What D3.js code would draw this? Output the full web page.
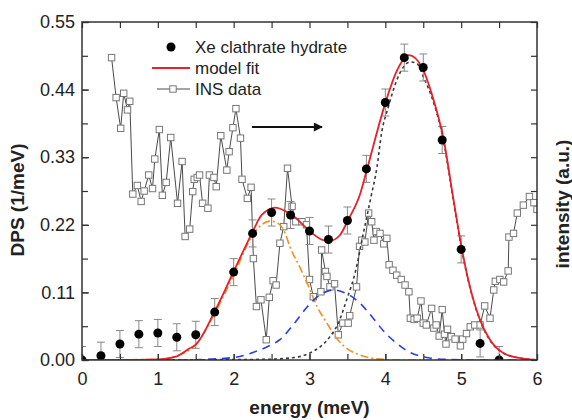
<!DOCTYPE html>
<html>
<head>
<meta charset="utf-8">
<script src="https://cdn.jsdelivr.net/npm/d3@7"></script>
<style>
  body { margin: 0; background: #fff; }
  text { font-family: "Liberation Sans", Arial, sans-serif; fill: #222; }
</style>
</head>
<body>
<div id="chart"></div>
<script>
// measured DPS points (energy, DPS) with error bars
var dpsE = [0, 0.25, 0.5, 0.75, 1.0, 1.25, 1.5, 1.75, 2.0, 2.25, 2.5, 2.75, 3.0, 3.25, 3.5, 3.75, 4.0, 4.25, 4.5, 4.75, 5.0, 5.25, 5.5];
var dpsV = [0.0, 0.007, 0.026, 0.042, 0.044, 0.037, 0.041, 0.078, 0.143, 0.206, 0.240, 0.236, 0.210, 0.196, 0.227, 0.311, 0.419, 0.492, 0.476, 0.358, 0.180, 0.027, 0.0];
var dpsErr = 0.022;

// model fit (red)
var fitE = [0, 0.5, 1.0, 1.25, 1.42, 1.5, 1.75, 2.0, 2.24, 2.37, 2.55, 2.7, 2.77, 3.01, 3.18, 3.27, 3.4, 3.51, 3.67, 3.76, 4.0, 4.15, 4.31, 4.48, 4.62, 4.77, 4.9, 5.01, 5.12, 5.25, 5.38, 5.56, 5.78, 6.0];
var fitV = [0, 0, 0.001, 0.006, 0.019, 0.025, 0.079, 0.144, 0.206, 0.236, 0.248, 0.241, 0.236, 0.209, 0.195, 0.194, 0.203, 0.228, 0.271, 0.311, 0.418, 0.470, 0.496, 0.477, 0.430, 0.358, 0.260, 0.180, 0.117, 0.065, 0.033, 0.011, 0.003, 0];

// component 1 (orange dash-dot)
var c1E = [0, 1.0, 1.25, 1.5, 1.75, 2.0, 2.26, 2.48, 2.59, 2.68, 2.74, 2.88, 2.99, 3.10, 3.23, 3.36, 3.49, 3.67, 3.89, 4.2, 6.0];
var c1V = [0, 0.001, 0.007, 0.025, 0.076, 0.138, 0.205, 0.226, 0.222, 0.206, 0.185, 0.149, 0.119, 0.087, 0.060, 0.035, 0.019, 0.008, 0.002, 0, 0];

// component 2 (blue dashed)
var c2E = [0, 1.3, 2.0, 2.25, 2.45, 2.61, 2.79, 2.96, 3.14, 3.32, 3.49, 3.67, 3.84, 3.97, 4.15, 4.33, 4.55, 4.8, 5.2, 6.0];
var c2V = [0, 0, 0.004, 0.012, 0.022, 0.033, 0.058, 0.085, 0.106, 0.114, 0.108, 0.092, 0.068, 0.048, 0.027, 0.012, 0.004, 0.001, 0, 0];

// component 3 (black dotted)
var c3E = [0, 2.4, 2.8, 3.0, 3.27, 3.38, 3.49, 3.60, 3.71, 3.81, 3.89, 3.95, 4.04, 4.15, 4.24, 4.33, 4.42, 4.50, 4.62, 4.77, 4.9, 5.01, 5.12, 5.25, 5.38, 5.56, 5.78, 6.0];
var c3V = [0, 0.001, 0.004, 0.011, 0.038, 0.060, 0.098, 0.141, 0.206, 0.265, 0.314, 0.369, 0.412, 0.455, 0.477, 0.485, 0.482, 0.461, 0.425, 0.355, 0.258, 0.178, 0.116, 0.064, 0.032, 0.011, 0.003, 0];

// INS data (right axis, drawn in same units)
var insE = [0.39, 0.45, 0.51, 0.55, 0.60, 0.63, 0.67, 0.73, 0.78, 0.82, 0.88, 0.93, 0.96, 1.02, 1.06, 1.11, 1.17, 1.26, 1.32, 1.36, 1.42, 1.46, 1.48, 1.52, 1.55, 1.59, 1.66, 1.68, 1.74, 1.77, 1.83, 1.91, 1.94, 1.99, 2.03, 2.09, 2.11, 2.18, 2.23, 2.26, 2.30, 2.36, 2.43, 2.47, 2.52, 2.56, 2.61, 2.66, 2.71, 2.77, 2.82, 2.90, 2.96, 3.00, 3.05, 3.15, 3.16, 3.21, 3.23, 3.27, 3.33, 3.38, 3.44, 3.51, 3.53, 3.62, 3.66, 3.69, 3.73, 3.78, 3.82, 3.85, 3.88, 3.93, 3.98, 4.02, 4.05, 4.10, 4.15, 4.21, 4.26, 4.31, 4.33, 4.38, 4.42, 4.47, 4.50, 4.54, 4.61, 4.64, 4.67, 4.71, 4.75, 4.78, 4.80, 4.82, 4.87, 4.92, 4.99, 5.02, 5.07, 5.12, 5.18, 5.25, 5.31, 5.38, 5.43, 5.45, 5.51, 5.56, 5.62, 5.63, 5.69, 5.74, 5.82, 5.90, 5.96, 6.0];
var insV = [0.492, 0.427, 0.377, 0.434, 0.407, 0.421, 0.270, 0.284, 0.258, 0.275, 0.301, 0.279, 0.327, 0.375, 0.268, 0.289, 0.362, 0.255, 0.323, 0.201, 0.213, 0.274, 0.294, 0.297, 0.301, 0.255, 0.247, 0.301, 0.297, 0.282, 0.365, 0.309, 0.339, 0.378, 0.409, 0.361, 0.294, 0.263, 0.281, 0.165, 0.087, 0.098, 0.033, 0.102, 0.129, 0.122, 0.190, 0.217, 0.312, 0.250, 0.225, 0.225, 0.220, 0.131, 0.103, 0.111, 0.179, 0.144, 0.136, 0.119, 0.124, 0.041, 0.060, 0.060, 0.072, 0.119, 0.185, 0.195, 0.192, 0.239, 0.225, 0.195, 0.209, 0.206, 0.189, 0.198, 0.155, 0.146, 0.138, 0.131, 0.122, 0.111, 0.068, 0.066, 0.068, 0.096, 0.060, 0.057, 0.084, 0.052, 0.057, 0.039, 0.082, 0.042, 0.026, 0.050, 0.038, 0.034, 0.023, 0.034, 0.043, 0.054, 0.057, 0.057, 0.088, 0.068, 0.114, 0.128, 0.131, 0.127, 0.145, 0.200, 0.206, 0.239, 0.252, 0.266, 0.256, 0.245];

var yTicks = [0, 0.11, 0.22, 0.33, 0.44, 0.55];
var xTicks = [0, 1, 2, 3, 4, 5, 6];

var width = 572, height = 420;
var mLeft = 82, mRight = 537, mTop = 22, mBottom = 360;

var svg = d3.select("#chart").append("svg")
    .attr("width", width)
    .attr("height", height);

var x = d3.scaleLinear().domain([0, 6]).range([mLeft, mRight]);
var y = d3.scaleLinear().domain([0, 0.55]).range([mBottom, mTop]);

var defs = svg.append("defs");
defs.append("clipPath").attr("id", "clip")
  .append("rect")
    .attr("x", mLeft).attr("y", mTop)
    .attr("width", mRight - mLeft).attr("height", mBottom - mTop);

function pts(es, vs) { return es.map(function(e, i){ return [e, vs[i]]; }); }

var line = d3.line()
    .x(function(d){ return x(d[0]); })
    .y(function(d){ return y(d[1]); });
var smooth = d3.line()
    .curve(d3.curveMonotoneX)
    .x(function(d){ return x(d[0]); })
    .y(function(d){ return y(d[1]); });

var plot = svg.append("g").attr("clip-path", "url(#clip)");

// INS data
plot.append("path")
    .attr("d", line(pts(insE, insV)))
    .attr("fill", "none")
    .attr("stroke", "#4a4a4a")
    .attr("stroke-width", 1);
plot.selectAll("rect.ins")
  .data(pts(insE, insV))
  .enter().append("rect")
    .attr("class", "ins")
    .attr("x", function(d){ return x(d[0]) - 3.2; })
    .attr("y", function(d){ return y(d[1]) - 3.2; })
    .attr("width", 6.4).attr("height", 6.4)
    .attr("fill", "#fff")
    .attr("stroke", "#777")
    .attr("stroke-width", 1);

// components
plot.append("path")
    .attr("d", smooth(pts(c1E, c1V)))
    .attr("fill", "none").attr("stroke", "#f0901e")
    .attr("stroke-width", 1.6)
    .attr("stroke-dasharray", "8,3,2,3");
plot.append("path")
    .attr("d", smooth(pts(c2E, c2V)))
    .attr("fill", "none").attr("stroke", "#2b3de6")
    .attr("stroke-width", 1.6)
    .attr("stroke-dasharray", "8,6");
plot.append("path")
    .attr("d", smooth(pts(c3E, c3V)))
    .attr("fill", "none").attr("stroke", "#3a3a3a")
    .attr("stroke-width", 1.6)
    .attr("stroke-dasharray", "3,3");

// error bars
var dps = pts(dpsE, dpsV);
var eb = plot.selectAll("g.err").data(dps).enter().append("g")
    .attr("stroke", "#888").attr("stroke-width", 1);
eb.append("line")
    .attr("x1", function(d){ return x(d[0]); })
    .attr("x2", function(d){ return x(d[0]); })
    .attr("y1", function(d){ return y(d[1] - dpsErr); })
    .attr("y2", function(d){ return y(d[1] + dpsErr); });
[-1, 1].forEach(function(s){
  eb.append("line")
    .attr("x1", function(d){ return x(d[0]) - 4; })
    .attr("x2", function(d){ return x(d[0]) + 4; })
    .attr("y1", function(d){ return y(d[1] + s * dpsErr); })
    .attr("y2", function(d){ return y(d[1] + s * dpsErr); });
});

// model fit
plot.append("path")
    .attr("d", smooth(pts(fitE, fitV)))
    .attr("fill", "none").attr("stroke", "#e8202a")
    .attr("stroke-width", 1.8);

// dots
plot.selectAll("circle.dps").data(dps).enter().append("circle")
    .attr("class", "dps")
    .attr("cx", function(d){ return x(d[0]); })
    .attr("cy", function(d){ return y(d[1]); })
    .attr("r", 4.5)
    .attr("fill", "#000");

// axes
var axisColor = "#333";
function styleAxis(g) {
  g.select(".domain").remove();
  g.selectAll(".tick line").attr("stroke", axisColor).attr("stroke-width", 1.2);
  g.selectAll("text").style("font-size", "18px").attr("fill", "#222");
}
var minorX = d3.range(0, 6.01, 0.5);
var minorY = d3.range(0, 11).map(function(i){ return i * 0.055; });

svg.append("g").attr("transform", "translate(0," + mBottom + ")")
    .call(d3.axisBottom(x).tickValues(minorX).tickSize(-6).tickFormat(""))
    .call(styleAxis);
svg.append("g").attr("transform", "translate(0," + mBottom + ")")
    .call(d3.axisBottom(x).tickValues(xTicks).tickSize(-6).tickPadding(12).tickFormat(d3.format("d")))
    .call(styleAxis);
svg.append("g").attr("transform", "translate(0," + mTop + ")")
    .call(d3.axisTop(x).tickValues(minorX).tickSize(-6).tickFormat(""))
    .call(styleAxis);
svg.append("g").attr("transform", "translate(" + mLeft + ",0)")
    .call(d3.axisLeft(y).tickValues(minorY).tickSize(-6).tickFormat(""))
    .call(styleAxis);
svg.append("g").attr("transform", "translate(" + mLeft + ",0)")
    .call(d3.axisLeft(y).tickValues(yTicks).tickSize(-7).tickPadding(7).tickFormat(d3.format(".2f")))
    .call(styleAxis);
svg.append("g").attr("transform", "translate(" + mRight + ",0)")
    .call(d3.axisRight(y).tickValues(minorY).tickSize(-6).tickFormat(""))
    .call(styleAxis);

svg.append("rect")
    .attr("x", mLeft).attr("y", mTop)
    .attr("width", mRight - mLeft).attr("height", mBottom - mTop)
    .attr("fill", "none").attr("stroke", axisColor).attr("stroke-width", 1.5);

// titles
svg.append("text")
    .attr("x", (mLeft + mRight) / 2).attr("y", 414)
    .attr("text-anchor", "middle")
    .style("font-size", "19px").style("font-weight", "bold")
    .text("energy (meV)");
svg.append("text")
    .attr("transform", "translate(24," + 200 + ") rotate(-90)")
    .attr("text-anchor", "middle")
    .style("font-size", "19px").style("font-weight", "bold")
    .text("DPS (1/meV)");
svg.append("text")
    .attr("transform", "translate(569," + 204 + ") rotate(-90)")
    .attr("text-anchor", "middle")
    .style("font-size", "19px").style("font-weight", "bold")
    .text("intensity (a.u.)");

// arrow
defs.append("marker")
    .attr("id", "arrow").attr("viewBox", "0 0 10 10")
    .attr("refX", 9).attr("refY", 5)
    .attr("markerWidth", 7).attr("markerHeight", 5)
    .attr("orient", "auto")
  .append("path").attr("d", "M0,0L10,5L0,10z").attr("fill", "#111");
svg.append("line")
    .attr("x1", 252).attr("x2", 322).attr("y1", 127).attr("y2", 127)
    .attr("stroke", "#111").attr("stroke-width", 1.8)
    .attr("marker-end", "url(#arrow)");

// legend
var lg = svg.append("g");
lg.append("circle").attr("cx", 171).attr("cy", 47).attr("r", 4.5).attr("fill", "#000");
lg.append("line").attr("x1", 152).attr("x2", 190).attr("y1", 68).attr("y2", 68)
    .attr("stroke", "#e8202a").attr("stroke-width", 1.8);
lg.append("line").attr("x1", 157).attr("x2", 190).attr("y1", 89).attr("y2", 89)
    .attr("stroke", "#4a4a4a").attr("stroke-width", 1);
lg.append("rect").attr("x", 169.8).attr("y", 85.8).attr("width", 6.4).attr("height", 6.4)
    .attr("fill", "#fff").attr("stroke", "#777");
var legendText = ["Xe clathrate hydrate", "model fit", "INS data"];
lg.selectAll("text.lg").data(legendText).enter().append("text")
    .attr("x", 195)
    .attr("y", function(d, i){ return 47 + i * 21 + 6; })
    .style("font-size", "17px")
    .text(function(d){ return d; });
</script>
</body>
</html>
